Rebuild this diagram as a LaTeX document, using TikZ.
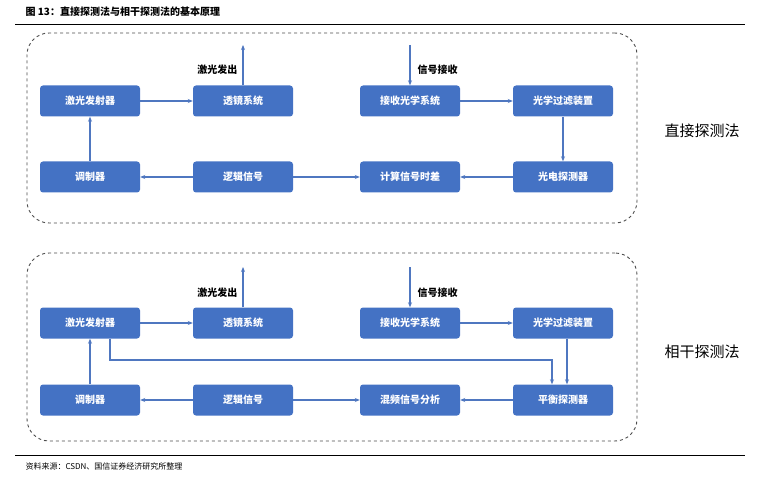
\documentclass[tikz,border=0pt]{standalone}
\usepackage{fontspec}
\setmainfont{Liberation Sans}
\newfontfamily\cjk{Noto Sans CJK SC}
\usetikzlibrary{arrows.meta}
\definecolor{bx}{HTML}{4472C4}
\definecolor{ln}{HTML}{4F77C0}
\begin{document}
\begin{tikzpicture}[x=1pt,y=-1pt,
 b/.style={draw=none,fill=bx,rounded corners=3pt,minimum width=100pt,minimum height=31pt,text=white,font=\cjk\bfseries\fontsize{10}{12}\selectfont,inner sep=0pt},
 a/.style={draw=ln,line width=1.1pt,-{Stealth[length=5pt,width=4pt]}},
 lab/.style={font=\cjk\bfseries\fontsize{10}{12}\selectfont},
 big/.style={font=\cjk\fontsize{15}{18}\selectfont},
 frame/.style={draw=black!70,dashed,line width=0.9pt,rounded corners=22pt}]
\useasboundingbox (0,0) rectangle (761,484);
\node[anchor=west,font=\cjk\bfseries\fontsize{10}{12}\selectfont] (title) at (22,12) {图 13：直接探测法与相干探测法的基本原理};
\draw[line width=0.8pt] (15,24) -- (745,24);
\node[frame,minimum width=610pt,minimum height=190pt] (f1) at (332,128) {};
\node[frame,minimum width=610pt,minimum height=188pt] (f2) at (332,347) {};
% direct
\node[b] (l1) at (90,101) {激光发射器};
\node[b] (t1) at (243,101) {透镜系统};
\node[b] (r1) at (410,101) {接收光学系统};
\node[b] (p1) at (563,101) {光学过滤装置};
\node[b] (m1) at (90,177) {调制器};
\node[b] (g1) at (243,177) {逻辑信号};
\node[b] (c1) at (410,177) {计算信号时差};
\node[b] (d1) at (563,177) {光电探测器};
\coordinate (o1) at (243,45); \coordinate (i1) at (410,45);
\draw[a] (l1) -- (t1); \draw[a] (t1) -- (o1);
\draw[a] (i1) -- (r1); \draw[a] (r1) -- (p1); \draw[a] (p1) -- (d1);
\draw[a] (d1) -- (c1); \draw[a] (g1) -- (c1); \draw[a] (g1) -- (m1); \draw[a] (m1) -- (l1);
\node[lab,anchor=east] (e1) at (241,70) {激光发出};
\node[lab,anchor=west] (s1) at (414,70) {信号接收};
\node[big] (n1) at (702,131) {直接探测法};
% coherent
\node[b] (l2) at (90,323) {激光发射器};
\node[b] (t2) at (243,323) {透镜系统};
\node[b] (r2) at (410,323) {接收光学系统};
\node[b] (p2) at (563,323) {光学过滤装置};
\node[b] (m2) at (90,400) {调制器};
\node[b] (g2) at (243,400) {逻辑信号};
\node[b] (c2) at (410,400) {混频信号分析};
\node[b] (d2) at (563,400) {平衡探测器};
\coordinate (o2) at (243,267); \coordinate (i2) at (410,267);
\draw[a] (l2) -- (t2); \draw[a] (t2) -- (o2);
\draw[a] (i2) -- (r2); \draw[a] (r2) -- (p2);
\draw[a] ([xshift=4pt]p2.south) -- ([xshift=4pt]d2.north);
\draw[a] ([xshift=20pt]l2.south) |- (552,360) -- ([xshift=-11pt]d2.north);
\draw[a] (d2) -- (c2); \draw[a] (g2) -- (c2); \draw[a] (g2) -- (m2); \draw[a] (m2) -- (l2);
\node[lab,anchor=east] (e2) at (241,293) {激光发出};
\node[lab,anchor=west] (s2) at (414,293) {信号接收};
\node[big] (n2) at (702,352) {相干探测法};
\draw[line width=0.6pt] (15,455) -- (745,455);
\node[anchor=west,font=\cjk\fontsize{8}{10}\selectfont] (src) at (22,466) {资料来源：CSDN、国信证券经济研究所整理};
\end{tikzpicture}
\end{document}
